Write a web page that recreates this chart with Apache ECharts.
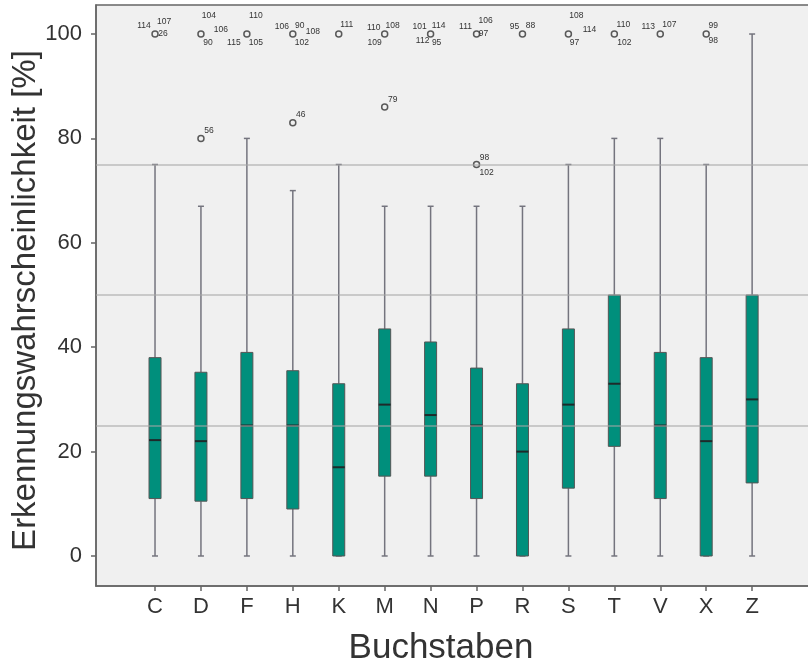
<!DOCTYPE html>
<html>
<head>
<meta charset="utf-8">
<script src="https://cdn.jsdelivr.net/npm/echarts@6/dist/echarts.min.js"></script>
<style>
html,body{margin:0;padding:0;background:#fff;}
#chart{width:808px;height:663px;}
</style>
</head>
<body>
<div id="chart"></div>
<script>
// ---- data ----
const categories = ['C','D','F','H','K','M','N','P','R','S','T','V','X','Z'];
const whiskerLow  = [0, 0, 0, 0, 0, 0, 0, 0, 0, 0, 0, 0, 0, 0];
const q1          = [11, 10.5, 11, 9, 0, 15.3, 15.3, 11, 0, 13, 21, 11, 0, 14];
const medians     = [22.2, 22, 25, 25, 17, 29, 27, 25, 20, 29, 33, 25, 22, 30];
const q3          = [38, 35.2, 39, 35.5, 33, 43.5, 41, 36, 33, 43.5, 50, 39, 38, 50];
const whiskerHigh = [75, 67, 80, 70, 75, 67, 67, 67, 67, 75, 80, 80, 75, 100];

const outlierCats   = ['C','D','F','H','K','M','N','P','R','S','T','V','X','D','H','M','P'];
const outlierValues = [100,100,100,100,100,100,100,100,100,100,100,100,100,80,83,86,75];
const outlierCases  = [
  [114,107,26],[104,106,90],[110,115,105],[106,90,108,102],[111],
  [110,108,109],[101,114,112,95],[111,106,97],[95,88],[108,114,97],
  [110,102],[113,107],[99,98],[56],[46],[79],[98,102]
];
const yTicks = [0, 20, 40, 60, 80, 100];
const referenceLines = [25, 50, 75];

// ---- styling: label offsets (px) of case numbers around each outlier ----
const caseLabelOffsets = [
  [[-11,-8],[9,-12],[8,0]],
  [[8,-18],[20,-4],[7,9]],
  [[9,-18],[-13,9],[9,9]],
  [[-11,-7],[7,-8],[20,-2],[9,9]],
  [[8,-9]],
  [[-11,-6],[8,-8],[-10,9]],
  [[-11,-7],[8,-8],[-8,7],[6,9]],
  [[-11,-7],[9,-13],[7,0]],
  [[-8,-7],[8,-8]],
  [[8,-18],[21,-4],[6,9]],
  [[9,-9],[10,9]],
  [[-12,-7],[9,-9]],
  [[7,-8],[7,7]],
  [[8,-8]],
  [[8,-8]],
  [[8,-7]],
  [[8,-7],[10,8]]
];

const catIndex = c => categories.indexOf(c);
const boxData = categories.map((c, i) => [i, whiskerLow[i], q1[i], medians[i], q3[i], whiskerHigh[i]]);
const outlierData = outlierCats.map((c, i) => [catIndex(c), outlierValues[i]]);
const caseLabelData = [];
outlierCases.forEach((ids, i) => {
  ids.forEach((id, k) => caseLabelData.push([catIndex(outlierCats[i]), outlierValues[i], id, i, k]));
});

const chart = echarts.init(document.getElementById('chart'), null, {renderer: 'canvas'});
const FONT = 'Liberation Sans, Arial, sans-serif';

const option = {
  animation: false,
  backgroundColor: '#ffffff',
  grid: {
    left: 96, top: 5, right: -2, bottom: 77,
    containLabel: false, outerBoundsMode: 'none',
    show: true, backgroundColor: '#f0f0f0', borderColor: '#666', borderWidth: 1.5
  },
  xAxis: {
    type: 'value', min: -1.285, max: 14.26,
    name: 'Buchstaben', nameLocation: 'middle', nameGap: 45, nameMoveOverlap: false,
    nameTextStyle: {fontFamily: FONT, fontSize: 35, color: '#333', padding: [0, 24, 0, 0]},
    axisLine: {show: true, onZero: false, lineStyle: {color: '#666', width: 1.5}},
    axisTick: {show: true, length: 5, customValues: categories.map((c, i) => i), lineStyle: {color: '#666', width: 1.5}},
    axisLabel: {
      customValues: categories.map((c, i) => i),
      formatter: v => categories[Math.round(v)] ?? '',
      fontFamily: FONT, fontSize: 22, color: '#333', margin: 10
    },
    splitLine: {show: false}
  },
  yAxis: {
    type: 'value', min: -5.75, max: 105.56,
    name: 'Erkennungswahrscheinlichkeit [%]', nameLocation: 'middle', nameGap: 54, nameMoveOverlap: false,
    nameTextStyle: {fontFamily: FONT, fontSize: 33, color: '#333', padding: [0, 10, 0, 0]},
    axisLine: {show: true, onZero: false, lineStyle: {color: '#666', width: 1.5}},
    axisTick: {show: true, length: 5, customValues: yTicks, lineStyle: {color: '#666', width: 1.5}},
    axisLabel: {customValues: yTicks, fontFamily: FONT, fontSize: 22, color: '#333', margin: 14},
    splitLine: {show: false}
  },
  series: [
    {
      type: 'custom',
      name: 'box',
      data: boxData,
      z: 3,
      renderItem: (params, api) => {
        const x = api.value(0);
        const pLow = api.coord([x, api.value(1)]);
        const pQ1 = api.coord([x, api.value(2)]);
        const pMed = api.coord([x, api.value(3)]);
        const pQ3 = api.coord([x, api.value(4)]);
        const pHigh = api.coord([x, api.value(5)]);
        const cx = pLow[0];
        const bw = 12, cw = 6;
        const wStyle = {stroke: '#74747e', lineWidth: 1.5};
        return {
          type: 'group',
          children: [
            {type: 'line', shape: {x1: cx, y1: pHigh[1], x2: cx, y2: pQ3[1]}, style: wStyle},
            {type: 'line', shape: {x1: cx, y1: pQ1[1], x2: cx, y2: pLow[1]}, style: wStyle},
            {type: 'line', shape: {x1: cx - cw/2, y1: pHigh[1], x2: cx + cw/2, y2: pHigh[1]}, style: wStyle},
            {type: 'line', shape: {x1: cx - cw/2, y1: pLow[1], x2: cx + cw/2, y2: pLow[1]}, style: wStyle},
            {type: 'rect', shape: {x: cx - bw/2, y: pQ3[1], width: bw, height: pQ1[1] - pQ3[1]},
             style: {fill: '#008f7c', stroke: '#555', lineWidth: 1}},
            {type: 'line', shape: {x1: cx - bw/2, y1: pMed[1], x2: cx + bw/2, y2: pMed[1]},
             style: {stroke: '#1e2a2a', lineWidth: 2}}
          ]
        };
      }
    },
    {
      type: 'scatter',
      name: 'outliers',
      data: outlierData,
      symbol: 'circle',
      symbolSize: 6,
      z: 4,
      itemStyle: {color: 'rgba(0,0,0,0)', borderColor: '#333', borderWidth: 1.5},
      markLine: {
        silent: true,
        symbol: 'none',
        label: {show: false},
        lineStyle: {color: 'rgba(165,165,165,0.7)', type: 'solid', width: 1.5},
        data: referenceLines.map(v => ({yAxis: v}))
      }
    },
    {
      type: 'custom',
      name: 'caseLabels',
      data: caseLabelData,
      z: 5,
      renderItem: (params, api) => {
        const p = api.coord([api.value(0), api.value(1)]);
        const off = caseLabelOffsets[api.value(3)][api.value(4)];
        return {
          type: 'text',
          x: p[0] + off[0], y: p[1] + off[1],
          style: {text: String(api.value(2)), fill: '#333', font: '8.5px ' + FONT, align: 'center', verticalAlign: 'middle'}
        };
      }
    }
  ]
};
chart.setOption(option);
</script>
</body>
</html>
